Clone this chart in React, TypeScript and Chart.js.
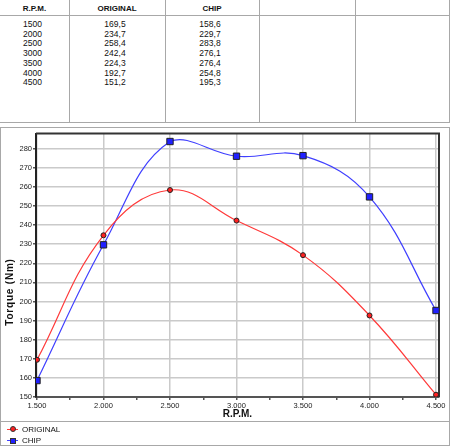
import React, { useEffect, useRef } from 'react';
import { Chart, registerables } from 'chart.js';

Chart.register(...registerables);

const rpm = [1500, 2000, 2500, 3000, 3500, 4000, 4500];
const original = [169.5, 234.7, 258.4, 242.4, 224.3, 192.7, 151.2];
const chip = [158.6, 229.7, 283.8, 276.1, 276.4, 254.8, 195.3];
const seriesNames = ['ORIGINAL', 'CHIP'];
const tableHeaders = ['R.P.M.', 'ORIGINAL', 'CHIP', '', ''];
const xTickValues = [1500, 1750, 2000, 2250, 2500, 2750, 3000, 3250, 3500, 3750, 4000, 4250, 4500];
const yTickValues = [150, 160, 170, 180, 190, 200, 210, 220, 230, 240, 250, 260, 270, 280];
const xTitle = 'R.P.M.';
const yTitle = 'Torque (Nm)';

const FONT = "'Liberation Sans', Arial, sans-serif";
const colBounds = [0, 69, 165, 259, 355, 449];

const fmtThousands = (v: number) => {
  const th = Math.floor(v / 1000);
  const rest = String(v % 1000).padStart(3, '0');
  return th > 0 ? `${th}.${rest}` : String(v);
};
const fmtDec = (v: number) => v.toFixed(1).replace('.', ',');

const framePlugin = {
  id: 'frame',
  beforeDatasetsDraw(chart: any) {
    const { ctx, chartArea: a } = chart;
    ctx.save();
    ctx.strokeStyle = '#333';
    ctx.lineWidth = 2;
    ctx.beginPath();
    ctx.moveTo(a.left, a.top);
    ctx.lineTo(a.right, a.top);
    ctx.lineTo(a.right, a.bottom);
    ctx.stroke();
    ctx.restore();
  },
};

function TorqueChart() {
  const ref = useRef<HTMLCanvasElement | null>(null);
  useEffect(() => {
    if (!ref.current) return;
    const chart = new Chart(ref.current, {
      type: 'line',
      data: {
        datasets: [
          {
            label: seriesNames[0],
            data: rpm.map((x, i) => ({ x, y: original[i] })),
            borderColor: '#ff3a3a',
            borderWidth: 1.2,
            pointStyle: 'circle',
            pointRadius: 2.5,
            pointBackgroundColor: '#ff2020',
            pointBorderColor: '#222',
            pointBorderWidth: 1,
            tension: 0.4,
            fill: false,
          },
          {
            label: seriesNames[1],
            data: rpm.map((x, i) => ({ x, y: chip[i] })),
            borderColor: '#4040ff',
            borderWidth: 1.2,
            pointStyle: 'rect',
            pointRadius: 4.5,
            pointBackgroundColor: '#2020ff',
            pointBorderColor: '#222',
            pointBorderWidth: 1,
            tension: 0.4,
            fill: false,
          },
        ],
      },
      options: {
        responsive: false,
        animation: false,
        devicePixelRatio: 1,
        layout: { padding: { left: 0, top: 4, right: 10, bottom: 0 } },
        plugins: { legend: { display: false }, tooltip: { enabled: false } },
        scales: {
          x: {
            type: 'linear',
            min: 1492.5,
            max: 4522.5,
            afterBuildTicks: (s: any) => {
              s.ticks = xTickValues.map((v) => ({ value: v }));
            },
            afterFit: (s: any) => {
              s.height = 24;
            },
            ticks: {
              autoSkip: false,
              maxRotation: 0,
              padding: 1,
              color: '#222',
              font: { family: FONT, size: 7.5 },
              callback: (v: any) => (Number(v) % 500 === 0 ? fmtThousands(Number(v)) : ''),
            },
            grid: {
              color: (c: any) => (c.tick && c.tick.value % 500 === 0 ? '#cacaca' : 'rgba(0,0,0,0)'),
              lineWidth: 1.5,
              tickColor: '#555',
              tickLength: 3,
            },
            border: { color: '#555', width: 2 },
            title: {
              display: true,
              text: xTitle,
              color: '#111',
              font: { family: FONT, size: 10, weight: 'bold' },
              padding: { top: 0, bottom: 1 },
            },
          },
          y: {
            type: 'linear',
            min: 150,
            max: 288,
            afterBuildTicks: (s: any) => {
              s.ticks = yTickValues.map((v) => ({ value: v }));
            },
            afterFit: (s: any) => {
              s.width = 35;
            },
            ticks: {
              padding: 1,
              color: '#222',
              font: { family: FONT, size: 7.5 },
              callback: (v: any) => String(v),
            },
            grid: {
              color: '#cacaca',
              lineWidth: 1.5,
              tickColor: '#555',
              tickLength: 3,
            },
            border: { color: '#222', width: 2 },
            title: { display: false },
          },
        },
      },
      plugins: [framePlugin],
    } as any);
    return () => chart.destroy();
  }, []);
  return <canvas ref={ref} width={448} height={293} style={{ position: 'absolute', left: 1, top: 128, width: 448, height: 293 }} />;
}

const line = (left: number, top: number, width: number, height: number, key: string) => (
  <div key={key} style={{ position: 'absolute', left, top, width, height, background: '#a8a8a8' }} />
);

export default function App() {
  const columns = [rpm.map(String), original.map(fmtDec), chip.map(fmtDec)];
  return (
    <div style={{ position: 'absolute', left: 0, top: 0, width: 450, height: 446, background: '#fff', fontFamily: FONT, color: '#111', overflow: 'hidden' }}>
      {/* table */}
      {line(0, 15, 450, 1, 'h1')}
      {line(0, 122, 450, 1, 'h2')}
      {colBounds.slice(1).map((x, i) => line(x, 0, 1, 123, 'v' + i))}
      {tableHeaders.map((h, i) => (
        <div key={'th' + i} style={{ position: 'absolute', left: colBounds[i], width: colBounds[i + 1] - colBounds[i], top: 3, textAlign: 'center', fontSize: 8, fontWeight: 'bold', lineHeight: '11px' }}>
          {h}
        </div>
      ))}
      {columns.map((col, ci) => (
        <div key={'col' + ci} style={{ position: 'absolute', left: colBounds[ci] - 2, width: colBounds[ci + 1] - colBounds[ci], top: 20, textAlign: 'center', fontSize: 8.5, lineHeight: '9.7px' }}>
          {col.map((v, ri) => (
            <div key={ri}>{v}</div>
          ))}
        </div>
      ))}
      {/* chart box */}
      <div style={{ position: 'absolute', left: 0, top: 127, width: 450, height: 319, border: '1px solid #a8a8a8', boxSizing: 'border-box' }} />
      <TorqueChart />
      <div style={{ position: 'absolute', left: 9, top: 292, transform: 'translate(-50%, -50%) rotate(-90deg)', fontSize: 10, fontWeight: 'bold', letterSpacing: '0.8px', whiteSpace: 'nowrap', color: '#111' }}>
        {yTitle}
      </div>
      {line(0, 421, 450, 1, 'sep')}
      {/* legend */}
      {seriesNames.map((name, i) => {
        const cy = 429 + i * 11.5;
        const isRect = i === 1;
        return (
          <React.Fragment key={'lg' + i}>
            <div style={{ position: 'absolute', left: 7, top: cy - 0.5, width: 11, height: 1, background: isRect ? '#4040ff' : '#ff3a3a' }} />
            <div
              style={{
                position: 'absolute',
                left: 10,
                top: cy - 3,
                width: 6,
                height: 6,
                boxSizing: 'border-box',
                border: '1px solid #333',
                borderRadius: isRect ? 0 : 3,
                background: isRect ? '#2020ff' : '#ff2020',
              }}
            />
            <div style={{ position: 'absolute', left: 22, top: cy - 5.5, fontSize: 8, lineHeight: '11px', whiteSpace: 'nowrap' }}>{name}</div>
          </React.Fragment>
        );
      })}
    </div>
  );
}
